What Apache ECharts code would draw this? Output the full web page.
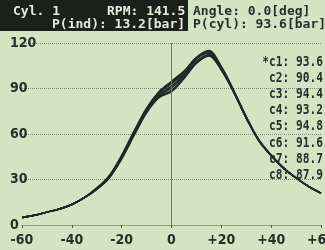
<!DOCTYPE html>
<html>
<head>
<meta charset="utf-8">
<script src="https://cdn.jsdelivr.net/npm/echarts@6/dist/echarts.min.js"></script>
<style>
  html, body { margin: 0; padding: 0; background: #d3e4c2; }
  #chart { width: 325px; height: 250px; }
</style>
</head>
<body>
<div id="chart"></div>
<script>
// crank angle [deg] and cylinder pressure [bar] per cylinder
const angles = [-60, -55, -50, -45, -40, -35, -30, -25, -20, -15, -10, -5, 0, 5, 10, 15, 20, 25, 30, 35, 40, 45, 50, 55, 60];
const c1 = [5, 6.5, 8.5, 10.5, 13.5, 18, 24, 32, 45, 61, 76, 87, 93.6, 100, 109.5, 113.5, 103, 88, 71, 56, 46, 37.5, 31, 25.5, 21];
const c2 = [5, 6.5, 8.5, 10.5, 13.5, 18, 24, 31.5, 44, 60, 75, 85, 90.4, 98, 107, 112, 103.5, 88.5, 71.5, 56.5, 46, 37.5, 31, 25.5, 21];
const c3 = [5, 6.5, 8.5, 10.5, 13.5, 18, 24, 32, 45.5, 61.5, 76.5, 87.5, 94.4, 101, 110, 114.5, 104, 88, 71, 56, 46, 37.5, 31, 25.5, 21];
const c4 = [5, 6.5, 8.5, 10.5, 13.5, 18, 24, 32, 45, 61, 76, 87, 93.2, 100, 109.5, 113.5, 103, 87.5, 70.5, 56, 46, 37.5, 31, 25.5, 21];
const c5 = [5, 6.5, 8.5, 10.5, 13.5, 18, 24.5, 32.5, 46, 62, 77, 88, 94.8, 101.5, 110.5, 115, 104.5, 88.5, 71, 56, 46, 37.5, 31, 25.5, 21];
const c6 = [5, 6.5, 8.5, 10.5, 13.5, 18, 24, 31.5, 44.5, 60.5, 75.5, 86, 91.6, 99, 108, 112.5, 103, 88, 71, 56, 46, 37.5, 31, 25.5, 21];
const c7 = [5, 6.5, 8.5, 10.5, 13.5, 18, 23.5, 31, 44, 59.5, 74.5, 84.5, 88.7, 97, 107, 112, 102.5, 87.5, 70.5, 56, 46, 37.5, 31, 25.5, 21];
const c8 = [5, 6.5, 8.5, 10.5, 13.5, 18, 23.5, 31, 43.5, 59, 74, 84, 87.9, 96.5, 106.5, 111.5, 102, 87.5, 70.5, 55.5, 45.5, 37.5, 31, 25.5, 21];
const cylData = [c1, c2, c3, c4, c5, c6, c7, c8];
const cylNames = ['c1', 'c2', 'c3', 'c4', 'c5', 'c6', 'c7', 'c8'];
const cylAtAngle = [93.6, 90.4, 94.4, 93.2, 94.8, 91.6, 88.7, 87.9];
const selectedCyl = 0;

const xTicks = [-60, -40, -20, 0, 20, 40, 60];
const yTicks = [0, 30, 60, 90, 120];

// header readouts
const cylNo = 1;
const rpm = 141.5;
const pInd = 13.2;
const angleNow = 0.0;
const pCyl = 93.6;

const ink = '#26302a';
const grid = '#7e8d77';
const lcdFont = "'Liberation Sans Narrow', 'DejaVu Sans Condensed', 'DejaVu Sans Mono', monospace";
const monoFont = "'DejaVu Sans Mono', monospace";

const chart = echarts.init(document.getElementById('chart'), null, { renderer: 'canvas' });

const series = cylData.map((vals, i) => ({
  name: cylNames[i],
  type: 'line',
  data: angles.map((a, k) => [a, vals[k]]),
  showSymbol: false,
  smooth: 0.35,
  silent: true,
  lineStyle: { color: '#222823', width: 1.5 },
  markLine: i === 0 ? {
    silent: true,
    symbol: 'none',
    label: { show: false },
    lineStyle: { color: '#6c7866', type: 'solid', width: 1 },
    data: [{ xAxis: 0 }]
  } : undefined,
  z: 3
}));

const listTexts = cylNames.map((n, i) => ({
  type: 'text',
  x: 323,
  y: 62 + i * 16.2,
  scaleX: 0.8,
  z: 10,
  style: {
    text: (i === selectedCyl ? '*' : '') + n + ': ' + cylAtAngle[i].toFixed(1),
    x: 0, y: 0,
    align: 'right',
    verticalAlign: 'middle',
    fill: ink,
    font: 'bold 14px ' + monoFont
  }
}));

const hdr = (text, x, y, color) => ({
  type: 'text', x: x, y: y, z: 11,
  style: { text: text, x: 0, y: 0, verticalAlign: 'middle', fill: color, font: 'bold 13px ' + monoFont }
});

chart.setOption({
  backgroundColor: '#d3e4c2',
  animation: false,
  grid: { left: 22, right: 4, top: 43, bottom: 25, outerBoundsMode: 'none' },
  xAxis: {
    type: 'value',
    min: xTicks[0],
    max: xTicks[xTicks.length - 1],
    interval: 20,
    axisLine: { show: true, lineStyle: { color: grid, type: 'dotted', width: 1 } },
    axisTick: { show: true, length: 3, lineStyle: { color: '#4f5b4a' } },
    splitLine: { show: false },
    axisLabel: {
      margin: 8,
      color: ink,
      fontFamily: lcdFont,
      fontWeight: 'bold',
      fontSize: 14,
      formatter: v => (v > 0 ? '+' + v : String(v))
    }
  },
  yAxis: {
    type: 'value',
    min: yTicks[0],
    max: yTicks[yTicks.length - 1],
    interval: 30,
    axisLine: { show: true, lineStyle: { color: grid, type: 'dotted', width: 1 } },
    axisTick: { show: false },
    splitLine: { show: true, lineStyle: { color: grid, type: 'dotted', width: 1 } },
    axisLabel: {
      align: 'left',
      margin: 12,
      color: ink,
      fontFamily: lcdFont,
      fontWeight: 'bold',
      fontSize: 14
    }
  },
  graphic: [
    { type: 'rect', shape: { x: 0, y: 0, width: 188, height: 31 }, style: { fill: '#1b201c' }, z: 10 },
    hdr('Cyl. ' + cylNo, 13, 12, '#e4ecdc'),
    hdr('RPM: ' + rpm.toFixed(1), 107, 12, '#e4ecdc'),
    hdr('P(ind): ' + pInd.toFixed(1) + '[bar]', 52, 25, '#e4ecdc'),
    hdr('Angle: ' + angleNow.toFixed(1) + '[deg]', 193, 12, ink),
    hdr('P(cyl): ' + pCyl.toFixed(1) + '[bar]', 193, 25, ink)
  ].concat(listTexts),
  series: series
});
</script>
</body>
</html>
